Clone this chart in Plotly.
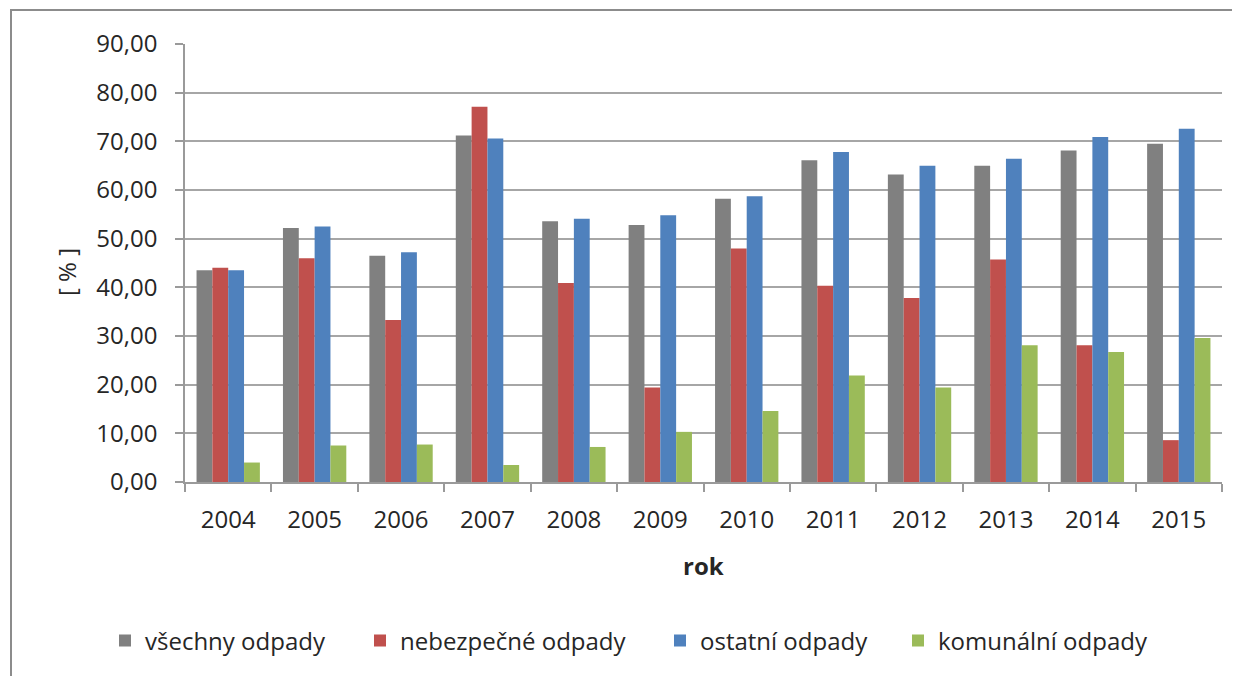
import plotly.graph_objects as go

years = ["2004", "2005", "2006", "2007", "2008", "2009", "2010", "2011", "2012", "2013", "2014", "2015"]
vsechny = [43.5, 52.2, 46.5, 71.2, 53.6, 52.8, 58.2, 66.1, 63.2, 65.0, 68.1, 69.5]
nebezpecne = [44.0, 46.0, 33.3, 77.1, 40.9, 19.4, 48.0, 40.3, 37.8, 45.7, 28.1, 8.6]
ostatni = [43.5, 52.5, 47.2, 70.6, 54.1, 54.8, 58.7, 67.8, 65.0, 66.4, 70.9, 72.6]
komunalni = [4.0, 7.5, 7.7, 3.5, 7.2, 10.3, 14.6, 21.9, 19.4, 28.1, 26.7, 29.6]

series_names = ["všechny odpady", "nebezpečné odpady", "ostatní odpady", "komunální odpady"]
series_values = [vsechny, nebezpecne, ostatni, komunalni]
series_colors = ["#808080", "#C0504D", "#4F81BD", "#9BBB59"]
legend_text_x = [145, 400, 700, 938]  # page x where legend text begins

FONT = "Open Sans"
FS = 24
TXT = "#262626"

OFF = 8  # page body margin
W, H = 1240 - OFF, 676 - OFF
# plot area in page pixels
L, R, T, B = 185, 1222, 44, 482
pw, ph = R - L, B - T

def px(x):
    return (x - L) / pw

def py(y):
    return (B - y) / ph

fig = go.Figure()
legend_keys = ["legend", "legend2", "legend3", "legend4"]
for name, vals, col, lk in zip(series_names, series_values, series_colors, legend_keys):
    fig.add_trace(go.Bar(x=years, y=vals, name=name, legend=lk,
                         marker=dict(color=col, line=dict(width=0))))

layout_legends = {}
for lk, tx in zip(legend_keys, legend_text_x):
    layout_legends[lk] = dict(orientation="h", x=px(tx - 40), xanchor="left",
                              y=py(641), yanchor="middle", bgcolor="rgba(0,0,0,0)",
                              font=dict(family=FONT, size=FS, color=TXT), itemwidth=30)

fig.update_layout(
    width=W, height=H,
    margin=dict(l=L - OFF, r=W - (R - OFF), t=T - OFF, b=H - (B - OFF), pad=0),
    paper_bgcolor="white", plot_bgcolor="white",
    barmode="group", bargap=0.267, bargroupgap=0,
    separators=", ",
    font=dict(family=FONT, size=FS, color=TXT),
    showlegend=True,
    xaxis=dict(type="category", showline=True, linecolor="#9A9A9A", linewidth=1.5,
               ticks="outside", tickson="boundaries", ticklen=8, tickcolor="#9A9A9A",
               tickwidth=1.5, ticklabelstandoff=15,
               tickfont=dict(family=FONT, size=FS, color=TXT), showgrid=False),
    yaxis=dict(range=[0, 90], dtick=10, tickformat=".2f", showline=True, linecolor="#9A9A9A",
               linewidth=1.5, ticks="outside", ticklen=8, tickcolor="#9A9A9A", tickwidth=1.5,
               ticklabelstandoff=13,
               gridcolor="#A6A6A6", gridwidth=1.5, zeroline=False,
               tickfont=dict(family=FONT, size=FS, color=TXT)),
    **layout_legends,
)

fig.add_annotation(text="[ % ]", x=px(66), y=py(272), xref="paper", yref="paper",
                   xanchor="center", yanchor="middle",
                   showarrow=False, textangle=-90, font=dict(family=FONT, size=FS, color=TXT))
fig.add_annotation(text="<b>rok</b>", x=px(703), y=py(565), xref="paper", yref="paper",
                   xanchor="center", yanchor="middle",
                   showarrow=False, font=dict(family=FONT, size=FS, color=TXT))

# outer chart border (top and left visible)
fig.add_shape(type="path", xref="paper", yref="paper",
              path=f"M {px(11)} {py(700)} L {px(11)} {py(10)} L {px(1260)} {py(10)}",
              line=dict(color="#8C8C8C", width=2))

fig.write_html("out.html")
